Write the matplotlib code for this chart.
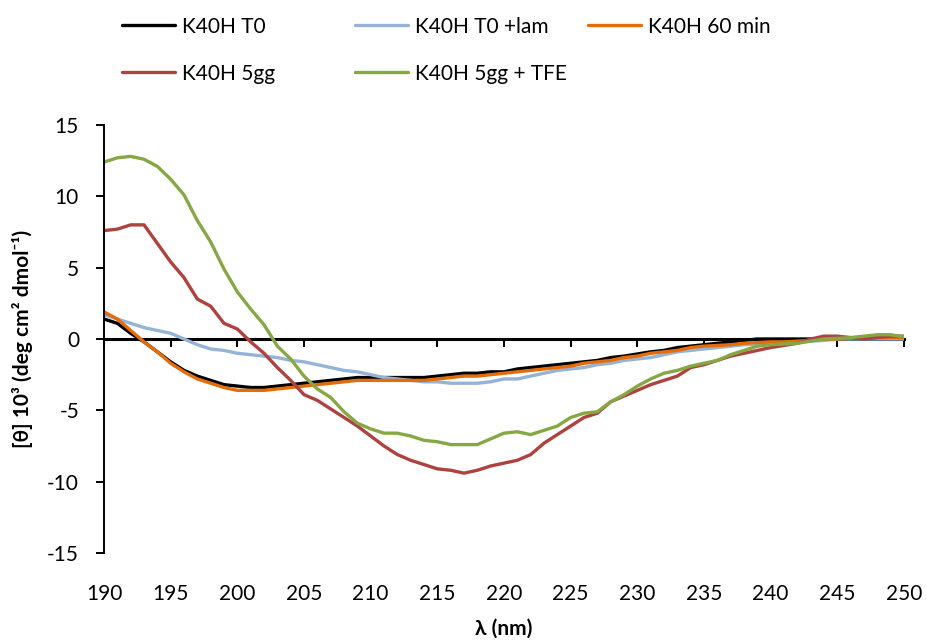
import matplotlib
matplotlib.use("Agg")
import matplotlib.pyplot as plt
import numpy as np

plt.rcParams["font.family"] = ["Lato", "DejaVu Sans"]
plt.rcParams["axes.unicode_minus"] = False

# wavelength grid (nm)
wavelength = np.arange(190, 251)

# CD spectra, [theta] x 10^3
k40h_t0 = [1.4, 1.1, 0.4, -0.2, -0.9, -1.6, -2.2, -2.6, -2.9, -3.2,
           -3.3, -3.4, -3.4, -3.3, -3.2, -3.1, -3.0, -2.9, -2.8, -2.7,
           -2.7, -2.7, -2.7, -2.7, -2.7, -2.6, -2.5, -2.4, -2.4, -2.3,
           -2.3, -2.1, -2.0, -1.9, -1.8, -1.7, -1.6, -1.5, -1.3, -1.2,
           -1.05, -0.9, -0.8, -0.6, -0.5, -0.4, -0.3, -0.2, -0.1, 0.0,
           0.0, 0.0, 0.0, 0.0, 0.0, 0.0, 0.0, 0.0, 0.0, 0.0,
           0.0]
k40h_t0_lam = [1.7, 1.4, 1.1, 0.8, 0.6, 0.4, 0.0, -0.4, -0.7, -0.8,
               -1.0, -1.1, -1.2, -1.3, -1.5, -1.6, -1.8, -2.0, -2.2, -2.3,
               -2.5, -2.7, -2.8, -2.9, -3.0, -3.0, -3.1, -3.1, -3.1, -3.0,
               -2.8, -2.8, -2.6, -2.4, -2.2, -2.1, -2.0, -1.8, -1.7, -1.5,
               -1.4, -1.3, -1.1, -0.9, -0.8, -0.7, -0.6, -0.5, -0.4, -0.35,
               -0.3, -0.25, -0.2, -0.15, -0.1, 0.0, 0.0, 0.0, 0.0, 0.0,
               0.0]
k40h_60min = [1.9, 1.4, 0.6, -0.2, -0.9, -1.7, -2.3, -2.8, -3.1, -3.4,
              -3.6, -3.6, -3.6, -3.5, -3.4, -3.3, -3.2, -3.1, -3.0, -2.9,
              -2.9, -2.9, -2.9, -2.9, -2.9, -2.8, -2.7, -2.6, -2.6, -2.5,
              -2.4, -2.3, -2.2, -2.1, -2.0, -1.9, -1.7, -1.6, -1.5, -1.3,
              -1.2, -1.0, -0.9, -0.8, -0.6, -0.5, -0.45, -0.4, -0.3, -0.25,
              -0.2, -0.2, -0.15, -0.1, 0.0, 0.0, 0.05, 0.1, 0.1, 0.1,
              0.1]
k40h_5gg = [7.6, 7.7, 8.0, 8.0, 6.7, 5.4, 4.3, 2.8, 2.3, 1.1,
            0.7, -0.2, -1.0, -2.0, -2.9, -3.9, -4.3, -4.9, -5.5, -6.1,
            -6.8, -7.5, -8.1, -8.5, -8.8, -9.1, -9.2, -9.4, -9.2, -8.9,
            -8.7, -8.5, -8.1, -7.3, -6.7, -6.1, -5.5, -5.2, -4.4, -4.0,
            -3.6, -3.2, -2.9, -2.6, -2.0, -1.8, -1.5, -1.2, -1.0, -0.8,
            -0.6, -0.45, -0.3, 0.0, 0.2, 0.2, 0.1, 0.0, 0.1, 0.2,
            0.2]
k40h_5gg_tfe = [12.4, 12.7, 12.8, 12.6, 12.1, 11.2, 10.1, 8.3, 6.8, 4.9,
                3.3, 2.1, 1.0, -0.5, -1.4, -2.6, -3.5, -4.1, -5.1, -5.9,
                -6.3, -6.6, -6.6, -6.8, -7.1, -7.2, -7.4, -7.4, -7.4, -7.0,
                -6.6, -6.5, -6.7, -6.4, -6.1, -5.5, -5.2, -5.1, -4.4, -3.9,
                -3.3, -2.8, -2.4, -2.2, -1.9, -1.7, -1.5, -1.1, -0.8, -0.5,
                -0.4, -0.35, -0.3, -0.15, 0.0, 0.05, 0.1, 0.2, 0.3, 0.3,
                0.15]

series = [
    ("K40H T0", k40h_t0, "#000000"),
    ("K40H T0 +lam", k40h_t0_lam, "#95B3D7"),
    ("K40H 60 min", k40h_60min, "#E46C0A"),
    ("K40H 5gg", k40h_5gg, "#AD423F"),
    ("K40H 5gg + TFE", k40h_5gg_tfe, "#86A844"),
]

fig = plt.figure(figsize=(9.27, 6.42), dpi=100)
ax = fig.add_axes([0.1122, 0.1386, 0.8630, 0.6667])

lines = {}
for name, vals, color in series:
    (ln,) = ax.plot(wavelength, vals, color=color, lw=2.4, label=name,
                    solid_capstyle="round")
    lines[name] = ln

ax.set_xlim(190, 250)
ax.set_ylim(-15, 15)
ax.set_xticks(np.arange(190, 251, 5))
ax.set_yticks(np.arange(-15, 16, 5))

# zero line carries the x ticks, labels sit at the bottom
ax.spines["top"].set_position(("data", 0))
ax.spines["top"].set_linewidth(2.2)
ax.spines["top"].set_zorder(1)
ax.spines["bottom"].set_visible(False)
ax.spines["right"].set_visible(False)
ax.spines["left"].set_linewidth(1.4)
ax.tick_params(axis="x", top=True, bottom=False, labeltop=False,
               labelbottom=True, direction="in", length=6, width=1.5,
               pad=22.5, labelsize=15)
ax.tick_params(axis="y", direction="out", length=6, width=1.4,
               pad=12, labelsize=15)

ax.set_xlabel("λ (nm)", fontsize=15, fontweight="bold", labelpad=10)
ax.set_ylabel("[θ] 10³ (deg cm² dmol⁻¹)", fontsize=15, fontweight="bold",
              labelpad=10)

# legend laid out in fixed columns like the original
legend_kw = dict(frameon=False, fontsize=15, handlelength=2.55,
                 handletextpad=0.33, labelspacing=1.3, borderpad=0,
                 borderaxespad=0, loc="upper left")
cols = [
    (["K40H T0", "K40H 5gg"], 0.1316),
    (["K40H T0 +lam", "K40H 5gg + TFE"], 0.3830),
    (["K40H 60 min"], 0.6343),
]
for names, xpos in cols:
    fig.legend([lines[n] for n in names], names,
               bbox_to_anchor=(xpos, 0.974), **legend_kw)

fig.savefig("out.png", dpi=100)
